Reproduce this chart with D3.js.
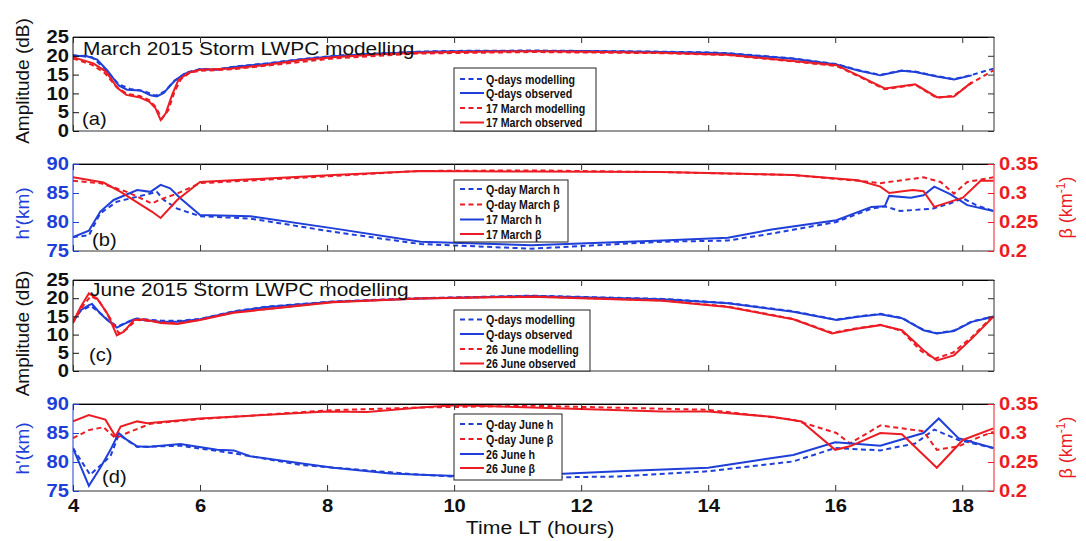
<!DOCTYPE html>
<html>
<head>
<meta charset="utf-8">
<script src="https://cdn.jsdelivr.net/npm/d3@7"></script>
<style>
body { margin: 0; background: #fff; }
svg text { font-family: "Liberation Sans", Arial, sans-serif; }
</style>
</head>
<body>
<svg id="chart" width="1086" height="541"></svg>
<script>
// time (hours LT) and value pairs

// (a) March amplitude (dB)
var qObsA = [[4.0,19.9],[4.2,20.0],[4.38,19.0],[4.54,16.1],[4.72,12.1],[4.85,11.0],[5.06,10.8],[5.22,9.5],[5.32,9.2],[5.43,10.1],[5.53,12.1],[5.61,13.5],[5.75,15.2],[6.0,16.4],[6.27,16.3],[6.53,17.0],[7.06,17.9],[7.58,19.0],[8.1,19.9],[8.63,20.4],[9.42,21.0],[10.0,21.2],[11.22,21.3],[12.0,21.3],[13.28,21.0],[14.0,20.8],[14.31,20.6],[15.34,19.2],[16.02,17.7],[16.36,16.1],[16.71,14.8],[17.05,16.0],[17.26,15.7],[17.6,14.5],[17.87,13.7],[18.15,14.8]];
var qModA = [[4.0,20.2],[4.3,19.6],[4.5,16.6],[4.72,12.4],[4.9,11.2],[5.1,10.7],[5.3,9.4],[5.45,10.6],[5.6,13.4],[5.8,15.6],[6.0,16.5],[6.27,16.4],[6.53,17.1],[7.06,18.0],[7.58,19.1],[8.1,20.0],[8.63,20.5],[9.42,21.1],[10.0,21.3],[11.22,21.4],[12.0,21.3],[13.28,21.1],[14.0,20.9],[14.31,20.7],[15.34,19.3],[16.02,17.8],[16.36,16.2],[16.71,14.9],[17.05,16.1],[17.26,15.8],[17.6,14.6],[17.87,13.8],[18.15,14.9],[18.49,16.6]];
var sObsA = [[4.0,19.6],[4.32,18.0],[4.52,15.8],[4.70,11.4],[4.84,9.6],[5.04,9.0],[5.20,7.8],[5.30,6.0],[5.38,2.9],[5.46,4.7],[5.56,9.6],[5.66,13.6],[5.82,15.5],[6.0,16.3],[6.5,16.6],[7.06,17.6],[7.58,18.8],[8.1,19.6],[8.63,20.2],[9.42,20.8],[10.0,21.0],[11.22,21.2],[12.0,21.1],[13.28,20.8],[14.31,20.3],[15.34,18.6],[16.02,17.5],[16.36,14.8],[16.78,11.3],[17.26,12.4],[17.6,9.0],[17.87,9.2],[18.15,13.0]];
var sModA = [[4.0,19.3],[4.3,17.6],[4.5,15.4],[4.68,11.8],[4.85,9.9],[5.05,9.3],[5.2,8.2],[5.3,6.4],[5.4,3.3],[5.5,5.5],[5.6,10.5],[5.7,13.8],[5.85,15.6],[6.0,16.0],[6.5,16.4],[7.06,17.4],[8.1,19.3],[9.42,20.6],[11.22,21.0],[13.28,20.7],[14.31,20.2],[15.34,18.5],[16.02,17.3],[16.36,14.6],[16.78,11.1],[17.26,12.3],[17.6,8.8],[17.87,9.4],[18.15,12.8],[18.49,16.1]];

// (b) March h' (km) and beta (km-1)
var qHB = [[4.0,77.4],[4.25,77.7],[4.43,81.5],[4.69,83.5],[5.22,84.9],[5.32,85.2],[5.43,83.8],[5.64,82.3],[6.0,81.0],[6.79,80.6],[8.1,78.3],[9.47,76.2],[11.22,75.4],[13.28,76.6],[14.31,76.8],[15.0,78.0],[16.02,80.0],[16.57,82.3],[16.78,82.7],[17.02,81.9],[17.53,82.3],[17.81,83.2],[18.01,84.1],[18.22,82.9],[18.49,81.9]];
var qBetaB = [[4.0,0.321],[4.43,0.317],[4.85,0.302],[5.24,0.282],[5.38,0.289],[5.64,0.299],[6.0,0.317],[7.06,0.323],[9.47,0.338],[11.22,0.339],[13.28,0.336],[15.34,0.331],[16.36,0.321],[16.71,0.317],[17.39,0.327],[17.66,0.319],[17.87,0.299],[18.08,0.319],[18.49,0.327]];
var sHB = [[4.0,77.4],[4.25,78.5],[4.43,81.8],[4.64,83.8],[5.01,85.5],[5.22,85.2],[5.38,86.4],[5.53,85.8],[5.69,84.1],[6.0,81.2],[6.79,81.0],[8.1,78.9],[9.47,76.6],[11.22,76.0],[13.28,76.8],[14.31,77.3],[15.0,78.7],[16.02,80.3],[16.57,82.6],[16.78,82.7],[16.85,84.5],[17.19,84.2],[17.39,84.6],[17.56,86.1],[17.81,84.8],[18.08,82.9],[18.49,81.9]];
var sBetaB = [[4.0,0.327],[4.48,0.318],[4.75,0.302],[5.24,0.268],[5.38,0.257],[5.64,0.288],[6.0,0.319],[7.06,0.325],[8.1,0.331],[9.47,0.338],[11.22,0.337],[13.28,0.336],[15.34,0.331],[16.36,0.322],[16.71,0.311],[16.85,0.300],[17.22,0.305],[17.39,0.303],[17.56,0.276],[18.01,0.292],[18.29,0.321],[18.49,0.321]];

// (c) June amplitude (dB)
var qObsC = [[4.0,13.5],[4.12,16.7],[4.25,18.1],[4.30,18.4],[4.43,15.8],[4.54,14.0],[4.69,11.9],[4.80,12.9],[4.96,14.2],[5.11,14.0],[5.38,13.5],[5.64,13.5],[6.0,14.2],[6.53,16.3],[7.06,17.6],[8.1,19.0],[9.47,19.9],[11.22,20.6],[13.28,19.7],[14.31,18.6],[15.34,16.3],[16.02,14.0],[16.36,14.9],[16.71,15.6],[17.05,14.5],[17.39,11.2],[17.6,10.3],[17.87,11.0],[18.15,13.5],[18.49,14.9]];
var qModC = [[4.0,13.8],[4.12,16.5],[4.28,17.9],[4.45,15.6],[4.56,13.8],[4.7,12.2],[4.82,13.2],[5.0,14.4],[5.4,13.8],[5.7,13.8],[6.0,14.3],[6.53,16.4],[7.06,17.7],[8.1,19.1],[9.47,20.0],[11.22,20.7],[13.28,19.8],[14.31,18.7],[15.34,16.4],[16.02,14.1],[16.36,15.0],[16.71,15.7],[17.05,14.6],[17.39,11.3],[17.6,10.4],[17.87,11.1],[18.15,13.6],[18.49,15.0]];
var sObsC = [[4.0,13.5],[4.12,17.6],[4.25,21.3],[4.38,19.9],[4.54,15.8],[4.69,9.8],[4.80,10.8],[4.96,14.0],[5.11,14.2],[5.38,13.2],[5.64,12.9],[6.0,14.0],[6.53,16.0],[8.1,18.9],[9.47,19.9],[11.22,20.4],[13.28,19.3],[14.31,17.6],[15.34,14.2],[15.95,10.3],[16.36,11.7],[16.71,12.6],[17.05,11.2],[17.39,5.7],[17.6,2.9],[17.87,4.3],[18.15,8.9],[18.49,14.9]];
var sModC = [[4.0,13.2],[4.12,17.0],[4.28,20.6],[4.4,19.5],[4.56,15.2],[4.72,10.4],[4.84,11.4],[5.0,14.1],[5.4,13.4],[5.64,13.1],[6.0,14.1],[6.53,16.1],[8.1,19.0],[9.47,20.0],[11.22,20.5],[13.28,19.4],[14.31,17.7],[15.34,14.3],[15.95,10.5],[16.36,11.8],[16.71,12.7],[17.05,11.0],[17.35,5.5],[17.57,3.4],[17.85,5.0],[18.15,9.3],[18.49,15.2]];

// (d) June h' (km) and beta (km-1)
var qHD = [[4.0,82.4],[4.27,77.8],[4.59,81.0],[4.72,84.7],[5.01,82.6],[5.69,82.8],[6.53,81.5],[7.58,79.5],[9.47,77.8],[10.53,77.2],[12.59,77.5],[14.0,78.4],[15.34,80.1],[16.0,82.4],[16.71,82.0],[17.26,83.2],[17.56,85.6],[17.94,83.8],[18.49,82.4]];
var qBetaD = [[4.0,0.291],[4.25,0.305],[4.48,0.310],[4.67,0.291],[4.85,0.300],[5.22,0.316],[6.0,0.324],[8.0,0.339],[9.47,0.344],[11.22,0.347],[14.0,0.340],[15.34,0.323],[16.02,0.300],[16.23,0.282],[16.71,0.313],[17.39,0.303],[17.6,0.271],[17.94,0.277],[18.29,0.294],[18.49,0.302]];
var sHD = [[4.0,82.4],[4.25,75.9],[4.43,79.0],[4.59,82.1],[4.72,85.0],[4.85,83.8],[5.01,82.7],[5.17,82.6],[5.69,83.1],[6.27,82.1],[6.53,82.0],[6.79,81.0],[7.58,79.8],[8.1,79.0],[9.0,78.0],[9.47,77.8],[10.53,77.4],[12.59,78.4],[14.0,79.0],[14.65,80.1],[15.34,81.2],[16.0,83.4],[16.36,83.1],[16.71,82.8],[17.39,85.0],[17.63,87.5],[17.94,84.1],[18.49,82.4]];
var sBetaD = [[4.0,0.320],[4.25,0.331],[4.51,0.323],[4.67,0.294],[4.75,0.311],[5.01,0.320],[5.17,0.317],[6.0,0.325],[8.0,0.337],[8.63,0.336],[9.47,0.344],[10.0,0.348],[11.22,0.344],[13.28,0.337],[14.0,0.337],[15.0,0.328],[15.47,0.320],[16.0,0.271],[16.23,0.277],[16.71,0.300],[17.05,0.298],[17.6,0.240],[18.01,0.288],[18.49,0.308]];

var xTicks = [4, 6, 8, 10, 12, 14, 16, 18];
var ampTicks = [0, 5, 10, 15, 20, 25];
var hTicks = [75, 80, 85, 90];
var betaTicks = [0.2, 0.25, 0.3, 0.35];

var blue = "#1f3fd9", red = "#ec1c24";
var left = 73, right = 994;

var svg = d3.select("#chart");
var x = d3.scaleLinear().domain([4, 18.5]).range([left, right]);

// widen glyphs a bit, the source figure is stretched horizontally
function stretch(sel, k) {
  sel.each(function() {
    var t = d3.select(this);
    var tx = +t.attr("x") || 0, ty = +t.attr("y") || 0;
    t.attr("x", 0).attr("y", 0)
      .attr("transform", "translate(" + tx + "," + ty + ") scale(" + k + ",1)");
  });
}

function drawPanel(p) {
  var g = svg.append("g");
  var yL = d3.scaleLinear().domain(p.yDomain).range([p.bottom, p.top]);
  var yR = p.rDomain ? d3.scaleLinear().domain(p.rDomain).range([p.bottom, p.top]) : null;

  svg.append("clipPath").attr("id", "clip-" + p.id)
    .append("rect").attr("x", left).attr("y", p.top)
    .attr("width", right - left).attr("height", p.bottom - p.top);

  var line = function(scale) {
    return d3.line().x(function(d) { return x(d[0]); }).y(function(d) { return scale(d[1]); });
  };

  var lines = g.append("g").attr("clip-path", "url(#clip-" + p.id + ")");
  p.series.forEach(function(s) {
    lines.append("path")
      .attr("d", line(s.right ? yR : yL)(s.data))
      .attr("fill", "none")
      .attr("stroke", s.color)
      .attr("stroke-width", 2)
      .attr("stroke-dasharray", s.dash ? "5,3.5" : null);
  });

  // box
  g.append("line").attr("x1", left).attr("x2", right).attr("y1", p.top).attr("y2", p.top).attr("stroke", "#333");
  g.append("line").attr("x1", left).attr("x2", right).attr("y1", p.bottom).attr("y2", p.bottom).attr("stroke", "#333");
  g.append("line").attr("x1", left).attr("x2", left).attr("y1", p.top).attr("y2", p.bottom).attr("stroke", p.leftColor);
  g.append("line").attr("x1", right).attr("x2", right).attr("y1", p.top).attr("y2", p.bottom).attr("stroke", p.rDomain ? red : "#333");

  // x ticks, top and bottom, pointing inward
  var xb = g.append("g").attr("transform", "translate(0," + p.bottom + ")")
    .call(d3.axisBottom(x).tickValues(xTicks).tickSizeInner(-6).tickSizeOuter(0).tickPadding(8)
      .tickFormat(p.xLabels ? d3.format("d") : ""));
  g.append("g").attr("transform", "translate(0," + p.top + ")")
    .call(d3.axisTop(x).tickValues(xTicks).tickSizeInner(-6).tickSizeOuter(0).tickFormat(""));

  var yl = g.append("g").attr("transform", "translate(" + left + ",0)")
    .call(d3.axisLeft(yL).tickValues(p.yTicks).tickSizeInner(-6).tickSizeOuter(0).tickPadding(4));

  var yr;
  if (p.rDomain) {
    yr = g.append("g").attr("transform", "translate(" + right + ",0)")
      .call(d3.axisRight(yR).tickValues(betaTicks).tickSizeInner(-6).tickSizeOuter(0).tickPadding(5)
        .tickFormat(function(d) { return String(d); }));
  } else {
    yr = g.append("g").attr("transform", "translate(" + right + ",0)")
      .call(d3.axisRight(yL).tickValues(p.yTicks).tickSizeInner(-6).tickSizeOuter(0).tickFormat(""));
  }

  [xb, yl, yr].forEach(function(a) { a.select(".domain").remove(); });
  xb.selectAll("line").attr("stroke", "#333");
  g.selectAll("g.tick line").attr("stroke", "#333");
  yl.selectAll("line").attr("stroke", p.leftColor);
  if (p.rDomain) yr.selectAll("line").attr("stroke", red);

  xb.selectAll("text").attr("fill", "#111").style("font-size", "18px").style("font-weight", "bold");
  yl.selectAll("text").attr("fill", p.leftColor).style("font-size", "18px").style("font-weight", "bold");
  yr.selectAll("text").attr("fill", red).style("font-size", "18px").style("font-weight", "bold");
  stretch(xb.selectAll("text"), 1.12);
  stretch(yl.selectAll("text"), 1.12);
  stretch(yr.selectAll("text"), 1.12);

  // axis titles
  var midY = (p.top + p.bottom) / 2;
  g.append("text")
    .attr("transform", "translate(29," + (midY + p.labelShift) + ") rotate(-90)")
    .attr("text-anchor", "middle")
    .attr("fill", p.leftColor)
    .style("font-size", "19px")
    .text(p.yLabel);

  if (p.rDomain) {
    var bt = g.append("text")
      .attr("transform", "translate(1072," + midY + ") rotate(-90)")
      .attr("text-anchor", "middle")
      .attr("fill", red)
      .style("font-size", "18px");
    bt.append("tspan").text("\u03b2 (km");
    bt.append("tspan").attr("dy", -7).style("font-size", "12px").text("-1");
    bt.append("tspan").attr("dy", 7).text(")");
  }

  if (p.title) {
    var tt = g.append("text").attr("x", p.titleX).attr("y", p.titleY)
      .attr("fill", "#111").style("font-size", "18px").text(p.title);
    stretch(tt, 1.16);
  }
  var tag = g.append("text").attr("x", p.tagX).attr("y", p.tagY)
    .attr("fill", "#111").style("font-size", "18px").text(p.tag);
  stretch(tag, 1.12);

  // legend
  var lg = g.append("g");
  lg.append("rect").attr("x", p.legend.x).attr("y", p.legend.y)
    .attr("width", p.legend.w).attr("height", p.legend.h)
    .attr("fill", "#fff").attr("stroke", "#222");
  p.series.forEach(function(s, i) {
    var ry = p.legend.rows[i];
    lg.append("line")
      .attr("x1", p.legend.x + 6).attr("x2", p.legend.x + 30)
      .attr("y1", ry).attr("y2", ry)
      .attr("stroke", s.color).attr("stroke-width", 2)
      .attr("stroke-dasharray", s.dash ? "5,3.5" : null);
    var lt = lg.append("text").attr("x", p.legend.x + 32).attr("y", ry + 4.5)
      .attr("fill", "#111").style("font-size", "12.5px").style("font-weight", "bold")
      .text(s.name);
    stretch(lt, 0.85);
  });
}

drawPanel({
  id: "a", top: 37, bottom: 131, yDomain: [0, 25], yTicks: ampTicks,
  leftColor: "#111", yLabel: "Amplitude (dB)", labelShift: -3,
  title: "March 2015 Storm LWPC modelling", titleX: 83, titleY: 55,
  tag: "(a)", tagX: 82, tagY: 125,
  legend: { x: 454, y: 68, w: 142, h: 63, rows: [79, 93, 108, 122.5] },
  series: [
    { name: "Q-days modelling", data: qModA, color: blue, dash: true },
    { name: "Q-days observed", data: qObsA, color: blue },
    { name: "17 March modelling", data: sModA, color: red, dash: true },
    { name: "17 March observed", data: sObsA, color: red }
  ]
});

drawPanel({
  id: "b", top: 164, bottom: 251, yDomain: [75, 90], yTicks: hTicks, rDomain: [0.2, 0.35],
  leftColor: blue, yLabel: "h'(km)", labelShift: 6,
  tag: "(b)", tagX: 92, tagY: 246,
  legend: { x: 454, y: 180, w: 114, h: 62, rows: [189, 204.5, 219.5, 234] },
  series: [
    { name: "Q-day March h", data: qHB, color: blue, dash: true },
    { name: "Q-day March \u03b2", data: qBetaB, color: red, dash: true, right: true },
    { name: "17 March h", data: sHB, color: blue },
    { name: "17 March \u03b2", data: sBetaB, color: red, right: true }
  ]
});

drawPanel({
  id: "c", top: 280, bottom: 371, yDomain: [0, 25], yTicks: ampTicks,
  leftColor: "#111", yLabel: "Amplitude (dB)", labelShift: 8,
  title: "June 2015 Storm LWPC modelling", titleX: 90, titleY: 296,
  tag: "(c)", tagX: 89, tagY: 361,
  legend: { x: 454, y: 310, w: 136, h: 61, rows: [319.5, 334, 349, 363.5] },
  series: [
    { name: "Q-days modelling", data: qModC, color: blue, dash: true },
    { name: "Q-days observed", data: qObsC, color: blue },
    { name: "26 June modelling", data: sModC, color: red, dash: true },
    { name: "26 June observed", data: sObsC, color: red }
  ]
});

drawPanel({
  id: "d", top: 404, bottom: 491, yDomain: [75, 90], yTicks: hTicks, rDomain: [0.2, 0.35],
  leftColor: blue, yLabel: "h'(km)", labelShift: 1, xLabels: true,
  tag: "(d)", tagX: 102, tagY: 483,
  legend: { x: 454, y: 414, w: 108, h: 66, rows: [424, 439, 454, 468] },
  series: [
    { name: "Q-day June h", data: qHD, color: blue, dash: true },
    { name: "Q-day June \u03b2", data: qBetaD, color: red, dash: true, right: true },
    { name: "26 June h", data: sHD, color: blue },
    { name: "26 June \u03b2", data: sBetaD, color: red, right: true }
  ]
});

var xl = svg.append("text").attr("x", 540).attr("y", 534)
  .attr("text-anchor", "middle").attr("fill", "#111")
  .style("font-size", "19px").text("Time LT (hours)");
stretch(xl, 1.12);
</script>
</body>
</html>
